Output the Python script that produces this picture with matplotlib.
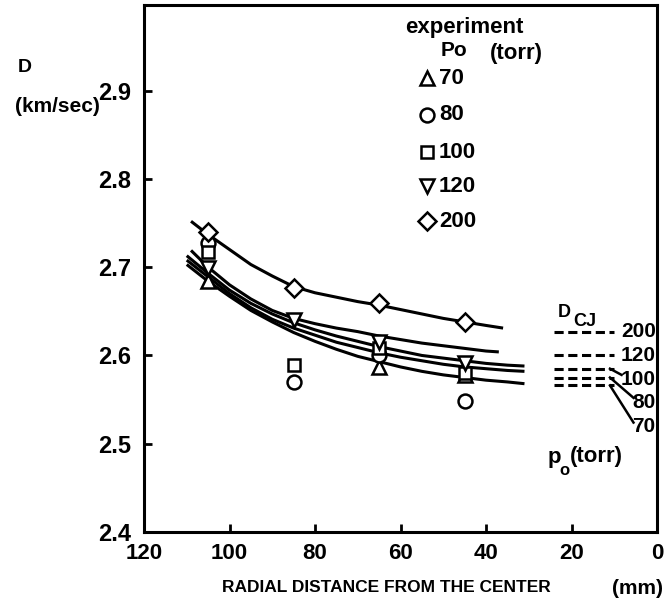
import numpy as np
import matplotlib
matplotlib.use("Agg")
import matplotlib.pyplot as plt

# ---------------- data ----------------
r_exp = [105, 85, 65, 45]
D_70 = [2.684, np.nan, 2.587, 2.578]
D_80 = [2.727, 2.570, 2.601, 2.548]
D_100 = [2.717, 2.589, 2.609, 2.580]
D_120 = [2.699, 2.640, 2.615, 2.591]
D_200 = [2.740, 2.676, 2.659, 2.638]

fit200_r = [109, 105, 100, 95, 90, 85, 80, 75, 70, 65, 60, 55, 50, 45, 40, 36]
fit200_D = [2.752, 2.737, 2.720, 2.703, 2.690, 2.678, 2.671, 2.666, 2.661, 2.657,
            2.652, 2.647, 2.642, 2.638, 2.634, 2.631]

fit120_r = [109, 105, 100, 95, 90, 85, 80, 75, 70, 65, 60, 55, 50, 45, 40, 37]
fit120_D = [2.719, 2.700, 2.680, 2.664, 2.651, 2.642, 2.636, 2.631, 2.627, 2.622,
            2.618, 2.614, 2.611, 2.608, 2.605, 2.604]

fit_low_r = [110, 105, 100, 95, 90, 85, 80, 75, 70, 65, 60, 55, 50, 45, 40, 35, 31]
fit100_D = [2.713, 2.693, 2.674, 2.659, 2.647, 2.637, 2.629, 2.622, 2.616, 2.610,
            2.605, 2.600, 2.597, 2.594, 2.591, 2.589, 2.588]
fit80_D = [2.708, 2.689, 2.670, 2.654, 2.641, 2.631, 2.623, 2.615, 2.609, 2.603,
           2.598, 2.594, 2.590, 2.587, 2.585, 2.583, 2.582]
fit70_D = [2.703, 2.684, 2.667, 2.651, 2.638, 2.626, 2.616, 2.607, 2.599, 2.593,
           2.587, 2.582, 2.578, 2.575, 2.572, 2.570, 2.568]

p_cj = ["200", "120", "100", "80", "70"]
D_cj = [2.627, 2.600, 2.585, 2.575, 2.566]
cj_label_shift = [0.0, 0.0, -0.012, -0.028, -0.047]

legend_p = ["70", "80", "100", "120", "200"]
legend_markers = ["^", "o", "s", "v", "D"]

xticks = [120, 100, 80, 60, 40, 20, 0]
yticks = [2.4, 2.5, 2.6, 2.7, 2.8, 2.9]

# ---------------- style ----------------
FONT = ["Liberation Sans", "DejaVu Sans"]
plt.rcParams["font.family"] = FONT
plt.rcParams["font.weight"] = "bold"

W, H = 665, 600
fig = plt.figure(figsize=(W / 100, H / 100), dpi=100)
ax = fig.add_axes([144 / W, 1 - 532 / H, (657 - 144) / W, (532 - 5) / H])
ax.set_xlim(120, 0)
ax.set_ylim(2.4, 2.997)

LW = 2.2
for s in ax.spines.values():
    s.set_linewidth(LW)
ax.set_xticks(xticks)
ax.set_yticks(yticks)
ax.set_xticklabels([str(v) for v in xticks])
ax.set_yticklabels([f"{v:.1f}" for v in yticks])
ax.tick_params(direction="in", length=6, width=2, labelsize=17, pad=9)
ax.tick_params(axis="x", labelsize=16, pad=8)

# fitted curves
for rr, dd in [(fit200_r, fit200_D), (fit120_r, fit120_D), (fit_low_r, fit100_D),
               (fit_low_r, fit80_D), (fit_low_r, fit70_D)]:
    ax.plot(rr, dd, color="black", lw=LW, zorder=2, solid_capstyle="butt")

# experimental points
mk = dict(color="black", markerfacecolor="white", markeredgewidth=1.8,
          linestyle="none", zorder=3)
series = [D_70, D_80, D_100, D_120, D_200]
sizes = {"^": 10, "o": 10, "s": 9, "v": 10, "D": 9}
for dd, m in zip(series, legend_markers):
    ax.plot(r_exp, dd, marker=m, markersize=sizes[m], **mk)

# D_CJ dashed lines
for lab, d, sh in zip(p_cj, D_cj, cj_label_shift):
    ax.plot([24, 10], [d, d], color="black", lw=LW, dashes=(3, 1.5), zorder=2)
    ax.text(0.3, d + sh, lab, ha="right", va="center", fontsize=15,
            fontweight="bold")
    if sh != 0:
        end_x = 8.3 if sh > -0.02 else 5.5
        ax.plot([11, end_x], [d, d + sh + 0.005], color="black", lw=1.8,
                zorder=2)

ax.text(21.6, 2.649, "D", ha="center", va="center", fontsize=13, fontweight="bold")
ax.text(17.0, 2.638, "CJ", ha="center", va="center", fontsize=13, fontweight="bold")
ax.text(25.6, 2.484, "p", ha="left", va="center", fontsize=16, fontweight="bold")
ax.text(22.8, 2.470, "o", ha="left", va="center", fontsize=12, fontweight="bold")
ax.text(20.3, 2.486, "(torr)", ha="left", va="center", fontsize=16,
        fontweight="bold")

# legend (manual)
def fx(px):
    return px / W

def fy(py):
    return 1 - py / H

fig.text(fx(464), fy(28), "experiment", ha="center", va="center", fontsize=16,
         fontweight="bold")
fig.text(fx(441), fy(50), "Po", ha="left", va="center", fontsize=15, fontweight="bold")
fig.text(fx(490), fy(53), "(torr)", ha="left", va="center", fontsize=16,
         fontweight="bold")
leg_y = [78, 115, 152, 186, 221]
for lab, m, py in zip(legend_p, legend_markers, leg_y):
    fig.add_artist(plt.Line2D([fx(427)], [fy(py)], marker=m, markersize=sizes[m],
                              color="black", markerfacecolor="white",
                              markeredgewidth=1.8, transform=fig.transFigure))
    fig.text(fx(439), fy(py), lab, ha="left", va="center", fontsize=16,
             fontweight="bold")

# axis labels
fig.text(fx(25), fy(68), "D", ha="center", va="center", fontsize=14, fontweight="bold")
fig.text(fx(57), fy(107), "(km/sec)", ha="center", va="center", fontsize=15,
         fontweight="bold")
fig.text(fx(222), fy(588), "RADIAL DISTANCE FROM THE CENTER", ha="left",
         va="center", fontsize=12.5, fontweight="bold")
fig.text(fx(663), fy(588), "(mm)", ha="right", va="center", fontsize=15,
         fontweight="bold")

fig.savefig("out.png", dpi=100)
